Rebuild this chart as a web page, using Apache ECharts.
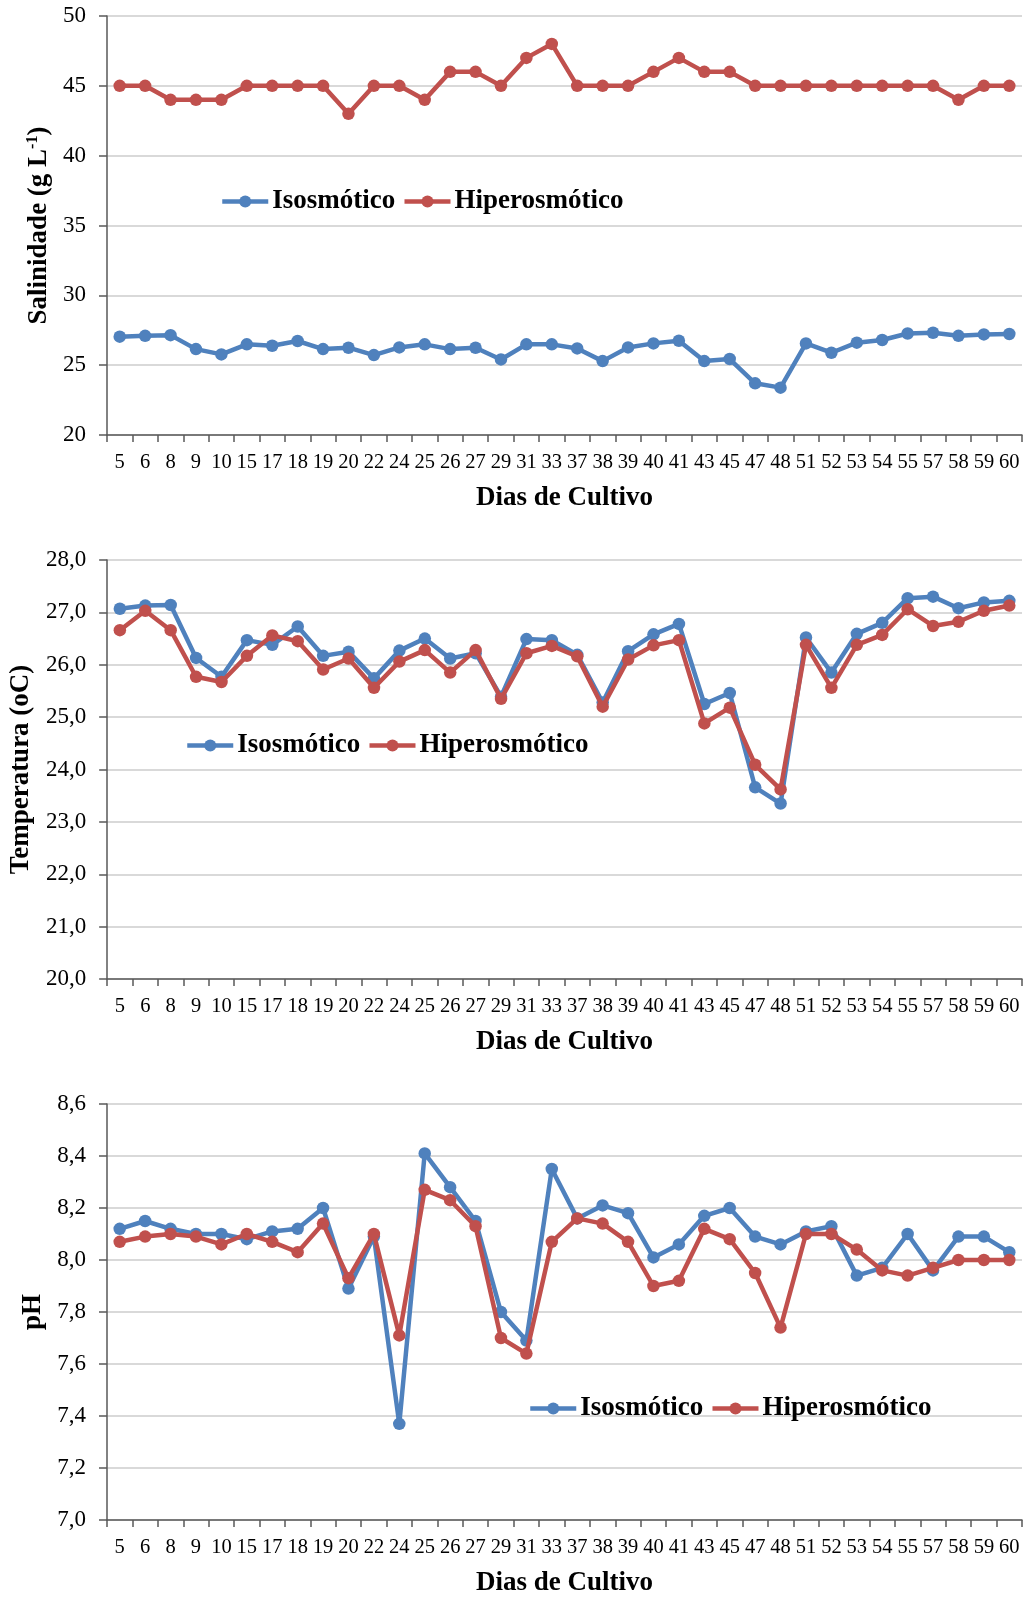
<!DOCTYPE html>
<html>
<head>
<meta charset="utf-8">
<title>Salinidade, Temperatura e pH</title>
<script src="https://cdn.jsdelivr.net/npm/echarts@6/dist/echarts.min.js"></script>
<style>
  html, body { margin: 0; padding: 0; background: #ffffff; }
  #chart { width: 1027px; height: 1598px; }
</style>
</head>
<body>
<div id="chart"></div>
<script>
// Dias de cultivo (eixo x comum aos três painéis)
const dias = ['5','6','8','9','10','15','17','18','19','20','22','24','25','26','27','29','31','33','37','38','39','40','41','43','45','47','48','51','52','53','54','55','57','58','59','60'];

// Salinidade (g L-1)
const salIso = [27.04,27.10,27.15,26.15,25.77,26.49,26.39,26.73,26.15,26.25,25.72,26.27,26.49,26.15,26.25,25.41,26.49,26.49,26.20,25.29,26.27,26.56,26.75,25.29,25.44,23.70,23.39,26.56,25.89,26.61,26.80,27.27,27.32,27.10,27.20,27.23];
const salHiper = [45,45,44,44,44,45,45,45,45,43,45,45,44,46,46,45,47,48,45,45,45,46,47,46,46,45,45,45,45,45,45,45,45,44,45,45];

// Temperatura (oC)
const tempIso = [27.07,27.13,27.14,26.13,25.77,26.47,26.38,26.73,26.17,26.25,25.74,26.27,26.50,26.12,26.22,25.39,26.49,26.47,26.19,25.28,26.26,26.58,26.78,25.25,25.46,23.66,23.35,26.52,25.85,26.59,26.80,27.27,27.30,27.08,27.19,27.22];
const tempHiper = [26.66,27.03,26.66,25.77,25.67,26.17,26.56,26.45,25.91,26.12,25.56,26.06,26.28,25.85,26.28,25.35,26.22,26.36,26.16,25.20,26.10,26.37,26.47,24.88,25.18,24.09,23.62,26.38,25.56,26.38,26.57,27.06,26.74,26.82,27.03,27.13];

// pH
const phIso = [8.12,8.15,8.12,8.10,8.10,8.08,8.11,8.12,8.20,7.89,8.09,7.37,8.41,8.28,8.15,7.80,7.69,8.35,8.16,8.21,8.18,8.01,8.06,8.17,8.20,8.09,8.06,8.11,8.13,7.94,7.97,8.10,7.96,8.09,8.09,8.03];
const phHiper = [8.07,8.09,8.10,8.09,8.06,8.10,8.07,8.03,8.14,7.93,8.10,7.71,8.27,8.23,8.13,7.70,7.64,8.07,8.16,8.14,8.07,7.90,7.92,8.12,8.08,7.95,7.74,8.10,8.10,8.04,7.96,7.94,7.97,8.00,8.00,8.00];

const serieNomes = ['Isosmótico', 'Hiperosmótico'];
const cores = ['#4F81BD', '#C0504D'];

const FONTE = "'Liberation Serif', 'Times New Roman', serif";
const EIXO = '#595959';
const GRADE = '#D9D9D9';

const paineis = [
  { top: 16, min: 20, max: 50, interval: 5, dec: 0,
    nome: '{b|Salinidade (g L}{s|-1}{b|)}', nameGap: 49,
    iso: salIso, hiper: salHiper, legend: { left: 215, top: 183 } },
  { top: 560, min: 20, max: 28, interval: 1, dec: 1,
    nome: '{b|Temperatura (oC)}', nameGap: 68,
    iso: tempIso, hiper: tempHiper, legend: { left: 180, top: 727 } },
  { top: 1104, min: 7.0, max: 8.6, interval: 0.2, dec: 1,
    nome: '{b|pH}', nameGap: 56,
    iso: phIso, hiper: phHiper, legend: { left: 523, top: 1390 } }
];

const grid = [], xAxis = [], yAxis = [], series = [], legend = [];

paineis.forEach((p, i) => {
  grid.push({ left: 107, top: p.top, width: 915, height: 419, containLabel: false });

  xAxis.push({
    type: 'category', gridIndex: i, data: dias, boundaryGap: true,
    name: 'Dias de Cultivo', nameLocation: 'middle', nameGap: 50,
    nameTextStyle: { fontFamily: FONTE, fontSize: 27, fontWeight: 'bold', color: '#000' },
    axisLine: { lineStyle: { color: EIXO, width: 1.5 } },
    axisTick: { show: true, inside: false, length: 7, lineStyle: { color: EIXO, width: 1.5 } },
    axisLabel: { interval: 0, margin: 17, fontFamily: FONTE, fontSize: 20.5, color: '#000' },
    splitLine: { show: false }
  });

  yAxis.push({
    type: 'value', gridIndex: i, min: p.min, max: p.max, interval: p.interval,
    name: p.nome, nameLocation: 'middle', nameRotate: 90, nameGap: p.nameGap,
    nameTextStyle: {
      fontFamily: FONTE, fontSize: 27, fontWeight: 'bold', color: '#000',
      rich: {
        b: { fontFamily: FONTE, fontSize: 27, fontWeight: 'bold', color: '#000' },
        s: { fontFamily: FONTE, fontSize: 16, fontWeight: 'bold', color: '#000', verticalAlign: 'top' }
      }
    },
    axisLine: { show: true, lineStyle: { color: EIXO, width: 1.5 } },
    axisTick: { show: true, inside: false, length: 8, lineStyle: { color: EIXO, width: 1.5 } },
    axisLabel: {
      margin: 21, fontFamily: FONTE, fontSize: 23, color: '#000',
      formatter: v => v.toFixed(p.dec).replace('.', ',')
    },
    splitLine: { show: true, lineStyle: { color: GRADE, width: 1.8 } }
  });

  [p.iso, p.hiper].forEach((dados, k) => {
    series.push({
      type: 'line', name: serieNomes[k], xAxisIndex: i, yAxisIndex: i,
      data: dados, symbol: 'circle', symbolSize: 12.5, showSymbol: true,
      lineStyle: { color: cores[k], width: 4.5 },
      itemStyle: { color: cores[k] },
      emphasis: { disabled: true },
      animation: false, z: 2 + k
    });
  });

  legend.push({
    left: p.legend.left, top: p.legend.top, orient: 'horizontal',
    data: serieNomes, itemWidth: 46, itemHeight: 15, itemGap: 7,
    selectedMode: false,
    lineStyle: { width: 4.5 },
    textStyle: { fontFamily: FONTE, fontSize: 27, fontWeight: 'bold', color: '#000', padding: [0, 0, 0, -1] }
  });
});

const chart = echarts.init(document.getElementById('chart'), null, { renderer: 'canvas' });
chart.setOption({
  backgroundColor: '#ffffff',
  animation: false,
  grid, xAxis, yAxis, series, legend
});
</script>
</body>
</html>
